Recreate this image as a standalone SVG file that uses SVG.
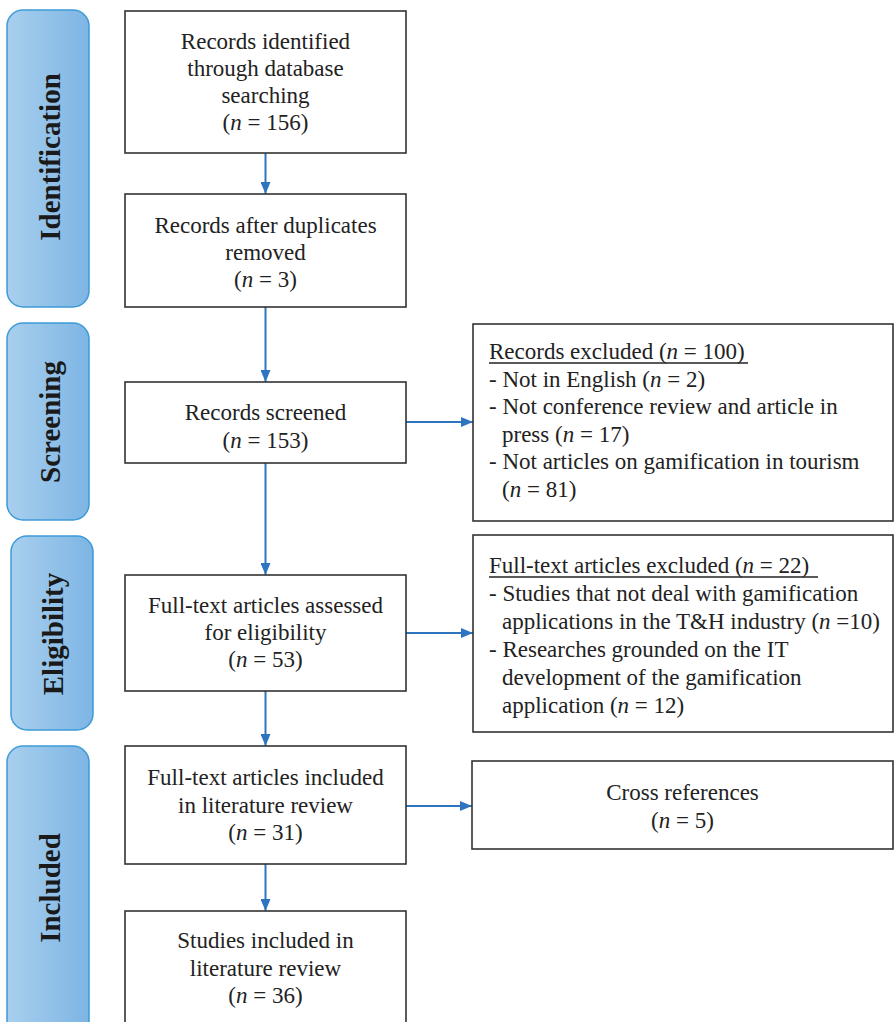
<svg xmlns="http://www.w3.org/2000/svg" width="895" height="1022" viewBox="0 0 895 1022">
<defs>
<linearGradient id="pill" x1="0" y1="0" x2="1" y2="0">
<stop offset="0" stop-color="#a9cfee"/>
<stop offset="1" stop-color="#7db5e4"/>
</linearGradient>
<marker id="ah" markerWidth="12" markerHeight="10" refX="12" refY="5" orient="auto" markerUnits="userSpaceOnUse">
<path d="M0,0 L12,5 L0,10 Z" fill="#2e75c0"/>
</marker>
<style>
.pill{fill:url(#pill);stroke:#3d9bd8;stroke-width:1.5}
.box{fill:#fff;stroke:#333;stroke-width:1.6}
.t{font-family:"Liberation Serif","Times New Roman",serif;font-size:23px;fill:#222}
.c{text-anchor:middle}
.lab{font-family:"Liberation Serif","Times New Roman",serif;font-size:29px;font-weight:bold;fill:#1a1a1a;text-anchor:middle}
.con{stroke:#2e75c0;stroke-width:2;fill:none;marker-end:url(#ah)}
.ul{stroke:#222;stroke-width:1.3}
</style>
</defs>
<rect width="895" height="1022" fill="#fff"/>

<g id="stage-identification">
<rect class="pill" x="7" y="10" width="82" height="297" rx="16"/>
<text class="lab" transform="translate(60,157) rotate(-90)">Identification</text>
</g>
<g id="stage-screening">
<rect class="pill" x="7" y="323" width="82" height="197" rx="16"/>
<text class="lab" transform="translate(60,422) rotate(-90)">Screening</text>
</g>
<g id="stage-eligibility">
<rect class="pill" x="11" y="536" width="82" height="194" rx="16"/>
<text class="lab" transform="translate(63,634) rotate(-90)">Eligibility</text>
</g>
<g id="stage-included">
<rect class="pill" x="7" y="746" width="82" height="300" rx="16"/>
<text class="lab" transform="translate(60,888) rotate(-90)">Included</text>
</g>

<g id="connectors">
<line class="con" x1="265.5" y1="153" x2="265.5" y2="194"/>
<line class="con" x1="265.5" y1="307" x2="265.5" y2="382"/>
<line class="con" x1="265.5" y1="463" x2="265.5" y2="575"/>
<line class="con" x1="265.5" y1="691" x2="265.5" y2="746"/>
<line class="con" x1="265.5" y1="864" x2="265.5" y2="911"/>
<line class="con" x1="406" y1="422" x2="473" y2="422"/>
<line class="con" x1="406" y1="633" x2="473" y2="633"/>
<line class="con" x1="406" y1="806" x2="472" y2="806"/>
</g>

<g id="n-identified">
<rect class="box" x="125" y="11" width="281" height="142"/>
<text class="t c" x="265.5" y="49">Records identified</text>
<text class="t c" x="265.5" y="76">through database</text>
<text class="t c" x="265.5" y="103">searching</text>
<text class="t c" x="265.5" y="130">(<tspan font-style="italic">n</tspan> = 156)</text>
</g>
<g id="n-duplicates">
<rect class="box" x="125" y="194" width="281" height="113"/>
<text class="t c" x="265.5" y="233">Records after duplicates</text>
<text class="t c" x="265.5" y="260">removed</text>
<text class="t c" x="265.5" y="287">(<tspan font-style="italic">n</tspan> = 3)</text>
</g>
<g id="n-screened">
<rect class="box" x="125" y="382" width="281" height="81"/>
<text class="t c" x="265.5" y="420">Records screened</text>
<text class="t c" x="265.5" y="448">(<tspan font-style="italic">n</tspan> = 153)</text>
</g>
<g id="n-assessed">
<rect class="box" x="125" y="575" width="281" height="116"/>
<text class="t c" x="265.5" y="613">Full-text articles assessed</text>
<text class="t c" x="265.5" y="640">for eligibility</text>
<text class="t c" x="265.5" y="667">(<tspan font-style="italic">n</tspan> = 53)</text>
</g>
<g id="n-fulltext-included">
<rect class="box" x="125" y="746" width="281" height="118"/>
<text class="t c" x="265.5" y="785">Full-text articles included</text>
<text class="t c" x="265.5" y="813">in literature review</text>
<text class="t c" x="265.5" y="840">(<tspan font-style="italic">n</tspan> = 31)</text>
</g>
<g id="n-studies">
<rect class="box" x="125" y="911" width="281" height="125"/>
<text class="t c" x="265.5" y="948">Studies included in</text>
<text class="t c" x="265.5" y="976">literature review</text>
<text class="t c" x="265.5" y="1003">(<tspan font-style="italic">n</tspan> = 36)</text>
</g>

<g id="n-records-excluded">
<rect class="box" x="473" y="324" width="420" height="197"/>
<text class="t" x="489" y="359">Records excluded (<tspan font-style="italic">n</tspan> = 100)</text>
<line class="ul" x1="489" y1="363" x2="748" y2="363"/>
<text class="t" x="489" y="387">- Not in English (<tspan font-style="italic">n</tspan> = 2)</text>
<text class="t" x="489" y="414">- Not conference review and article in</text>
<text class="t" x="502" y="442">press (<tspan font-style="italic">n</tspan> = 17)</text>
<text class="t" x="489" y="469">- Not articles on gamification in tourism</text>
<text class="t" x="502" y="497">(<tspan font-style="italic">n</tspan> = 81)</text>
</g>
<g id="n-fulltext-excluded">
<rect class="box" x="473" y="535" width="420" height="197"/>
<text class="t" x="489" y="573">Full-text articles excluded (<tspan font-style="italic">n</tspan> = 22)</text>
<line class="ul" x1="489" y1="577" x2="818" y2="577"/>
<text class="t" x="489" y="601">- Studies that not deal with gamification</text>
<text class="t" x="502" y="629">applications in the T&amp;H industry (<tspan font-style="italic">n</tspan> =10)</text>
<text class="t" x="489" y="657">- Researches grounded on the IT</text>
<text class="t" x="502" y="685">development of the gamification</text>
<text class="t" x="502" y="713">application (<tspan font-style="italic">n</tspan> = 12)</text>
</g>
<g id="n-cross-references">
<rect class="box" x="472" y="761" width="421" height="88"/>
<text class="t c" x="682.5" y="800">Cross references</text>
<text class="t c" x="682.5" y="828">(<tspan font-style="italic">n</tspan> = 5)</text>
</g>
</svg>
